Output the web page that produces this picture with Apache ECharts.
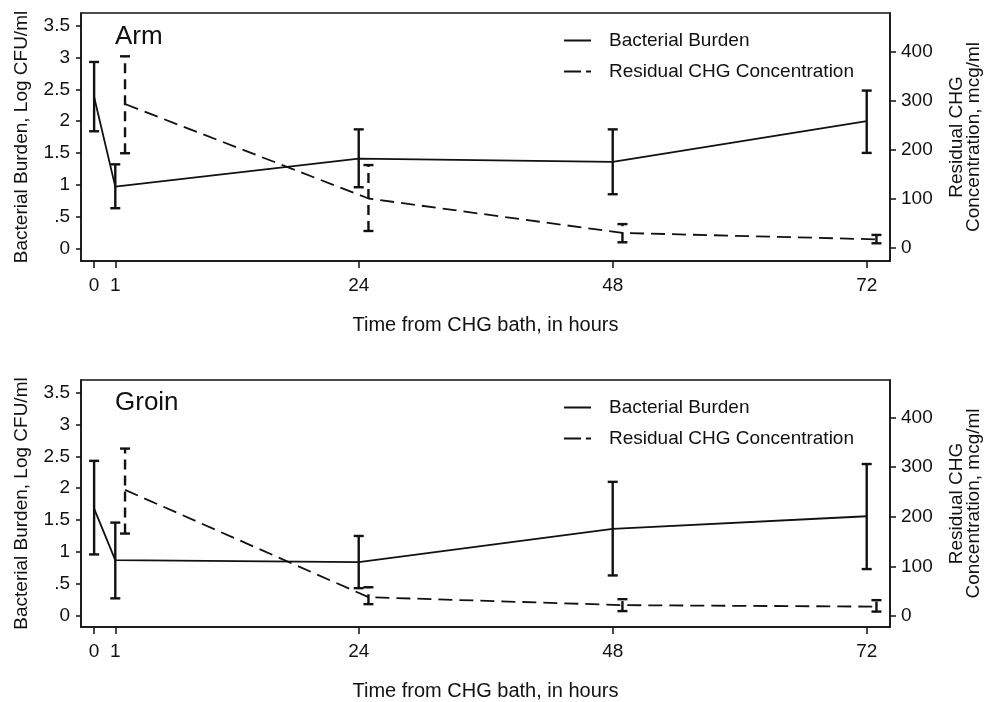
<!DOCTYPE html>
<html>
<head>
<meta charset="utf-8">
<script src="https://cdn.jsdelivr.net/npm/echarts@6/dist/echarts.min.js"></script>
<style>
  html, body { margin: 0; padding: 0; background: #fff; }
  #main { width: 986px; height: 702px; }
</style>
</head>
<body>
<div id="main"></div>
<script>
const chart = echarts.init(document.getElementById('main'))

// hours after bath
const hours = [0, 1, 24, 48, 72]
const chgHours = [1, 24, 48, 72]

// Arm panel
const armBurden = [2.38, 0.97, 1.41, 1.36, 2.0]
const armBurdenLo = [1.84, 0.63, 0.96, 0.85, 1.5]
const armBurdenHi = [2.93, 1.32, 1.87, 1.87, 2.48]
const armChg = [293, 101, 31, 18]
const armChgLo = [193, 35, 12, 10]
const armChgHi = [390, 169, 49, 27]

// Groin panel
const groinBurden = [1.68, 0.87, 0.84, 1.36, 1.56]
const groinBurdenLo = [0.96, 0.27, 0.43, 0.63, 0.73]
const groinBurdenHi = [2.43, 1.46, 1.25, 2.1, 2.38]
const groinChg = [254, 38, 22, 19]
const groinChgLo = [166, 24, 10, 9]
const groinChgHi = [337, 58, 34, 32]

const burdenTicks = [0, 0.5, 1, 1.5, 2, 2.5, 3, 3.5]
const chgTicks = [0, 100, 200, 300, 400]

// baseline is drawn just left of hour 1, CHG points nudged right
const plotX = (h) => h === 0 ? -1 : h
const chgShift = 0.92
const xTicks = hours.map(plotX)

const FONT = '"Liberation Sans", Arial, sans-serif'
const INK = '#111'
const FS = 19

function errorBars(dashed) {
  return function (params, api) {
    let x = api.value(0)
    let lo = api.coord([x, api.value(1)])
    let hi = api.coord([x, api.value(2)])
    let cap = 5
    let solid = { stroke: INK, lineWidth: 2.4 }
    return {
      type: 'group',
      children: [
        { type: 'line', shape: { x1: lo[0], y1: lo[1], x2: hi[0], y2: hi[1] },
          style: { stroke: INK, lineWidth: 2.4, lineDash: dashed ? [10, 6] : null } },
        { type: 'line', shape: { x1: lo[0] - cap, y1: lo[1], x2: lo[0] + cap, y2: lo[1] }, style: solid },
        { type: 'line', shape: { x1: hi[0] - cap, y1: hi[1], x2: hi[0] + cap, y2: hi[1] }, style: solid }
      ]
    }
  }
}

function xAxisFor(gridIndex) {
  return {
    type: 'value',
    gridIndex: gridIndex,
    min: -2.24,
    max: 74.2,
    name: 'Time from CHG bath, in hours',
    nameLocation: 'middle',
    nameGap: 54,
    nameTextStyle: { color: INK, fontSize: 20, fontFamily: FONT },
    axisLine: { onZero: false, lineStyle: { color: INK, width: 1.5 } },
    axisTick: { customValues: xTicks, length: 7, lineStyle: { color: INK, width: 1.5 } },
    axisLabel: {
      customValues: xTicks,
      margin: 15,
      color: INK,
      fontSize: FS,
      fontFamily: FONT,
      formatter: (v) => String(hours[xTicks.indexOf(v)])
    },
    splitLine: { show: false }
  }
}

function leftAxisFor(gridIndex, min) {
  return {
    type: 'value',
    gridIndex: gridIndex,
    position: 'left',
    min: min,
    max: 3.7,
    name: 'Bacterial Burden, Log CFU/ml',
    nameLocation: 'middle',
    nameGap: 50,
    nameTextStyle: { color: INK, fontSize: FS, fontFamily: FONT },
    axisLine: { onZero: false, lineStyle: { color: INK, width: 1.5 } },
    axisTick: { customValues: burdenTicks, length: 5, lineStyle: { color: INK, width: 1.5 } },
    axisLabel: {
      customValues: burdenTicks,
      margin: 11,
      color: INK,
      fontSize: FS,
      fontFamily: FONT,
      formatter: (v) => String(v).replace(/^0\./, '.')
    },
    splitLine: { show: false }
  }
}

function rightAxisFor(gridIndex, min, max) {
  return {
    type: 'value',
    gridIndex: gridIndex,
    position: 'right',
    min: min,
    max: max,
    name: 'Residual CHG\nConcentration, mcg/ml',
    nameLocation: 'middle',
    nameRotate: 90,
    nameGap: 58,
    nameTextStyle: { color: INK, fontSize: FS, fontFamily: FONT, lineHeight: 17 },
    axisLine: { onZero: false, lineStyle: { color: INK, width: 1.5 } },
    axisTick: { customValues: chgTicks, length: 6, lineStyle: { color: INK, width: 1.5 } },
    axisLabel: {
      customValues: chgTicks,
      margin: 11,
      color: INK,
      fontSize: FS,
      fontFamily: FONT
    },
    splitLine: { show: false }
  }
}

function legendFor(top) {
  return {
    orient: 'vertical',
    left: 563,
    top: top,
    padding: 0,
    itemWidth: 27,
    itemHeight: 18,
    itemGap: 12,
    selectedMode: false,
    itemStyle: { opacity: 0 },
    textStyle: { color: INK, fontSize: FS, fontFamily: FONT, padding: [0, 0, 0, 13] },
    data: [
      { name: 'Bacterial Burden' },
      { name: 'Residual CHG Concentration', lineStyle: { type: [17, 5] } }
    ]
  }
}

function panelSeries(k, burden, bLo, bHi, chg, cLo, cHi) {
  let xA = k, yL = k * 2, yR = k * 2 + 1
  return [
    {
      name: 'Bacterial Burden',
      type: 'line',
      xAxisIndex: xA,
      yAxisIndex: yL,
      symbol: 'none',
      lineStyle: { color: INK, width: 1.8 },
      itemStyle: { color: INK },
      data: hours.map((h, i) => [plotX(h), burden[i]])
    },
    {
      name: 'Residual CHG Concentration',
      type: 'line',
      xAxisIndex: xA,
      yAxisIndex: yR,
      symbol: 'none',
      lineStyle: { color: INK, width: 1.8, type: [14, 7] },
      itemStyle: { color: INK },
      data: chgHours.map((h, i) => [h + chgShift, chg[i]])
    },
    {
      name: 'burden-ci-' + k,
      type: 'custom',
      xAxisIndex: xA,
      yAxisIndex: yL,
      renderItem: errorBars(false),
      encode: { x: 0, y: [1, 2] },
      data: hours.map((h, i) => [plotX(h), bLo[i], bHi[i]])
    },
    {
      name: 'chg-ci-' + k,
      type: 'custom',
      xAxisIndex: xA,
      yAxisIndex: yR,
      renderItem: errorBars(true),
      encode: { x: 0, y: [1, 2] },
      data: chgHours.map((h, i) => [h + chgShift, cLo[i], cHi[i]])
    }
  ]
}

let gridBase = {
  left: 81, width: 809, show: true, borderColor: INK, borderWidth: 1.5,
  containLabel: false, outerBoundsMode: 'none'
}

let option = {
  backgroundColor: '#fff',
  animation: false,
  grid: [
    Object.assign({}, gridBase, { top: 13, height: 248 }),
    Object.assign({}, gridBase, { top: 380, height: 247 })
  ],
  xAxis: [xAxisFor(0), xAxisFor(1)],
  yAxis: [
    leftAxisFor(0, -0.2), rightAxisFor(0, -26, 478),
    leftAxisFor(1, -0.18), rightAxisFor(1, -22, 475)
  ],
  legend: [legendFor(31), legendFor(398)],
  graphic: [
    { type: 'text', left: 115, top: 24, style: { text: 'Arm', fontSize: 26, fontFamily: FONT, fill: INK } },
    { type: 'text', left: 115, top: 390, style: { text: 'Groin', fontSize: 26, fontFamily: FONT, fill: INK } }
  ],
  series: [].concat(
    panelSeries(0, armBurden, armBurdenLo, armBurdenHi, armChg, armChgLo, armChgHi),
    panelSeries(1, groinBurden, groinBurdenLo, groinBurdenHi, groinChg, groinChgLo, groinChgHi)
  )
}

chart.setOption(option)
</script>
</body>
</html>
